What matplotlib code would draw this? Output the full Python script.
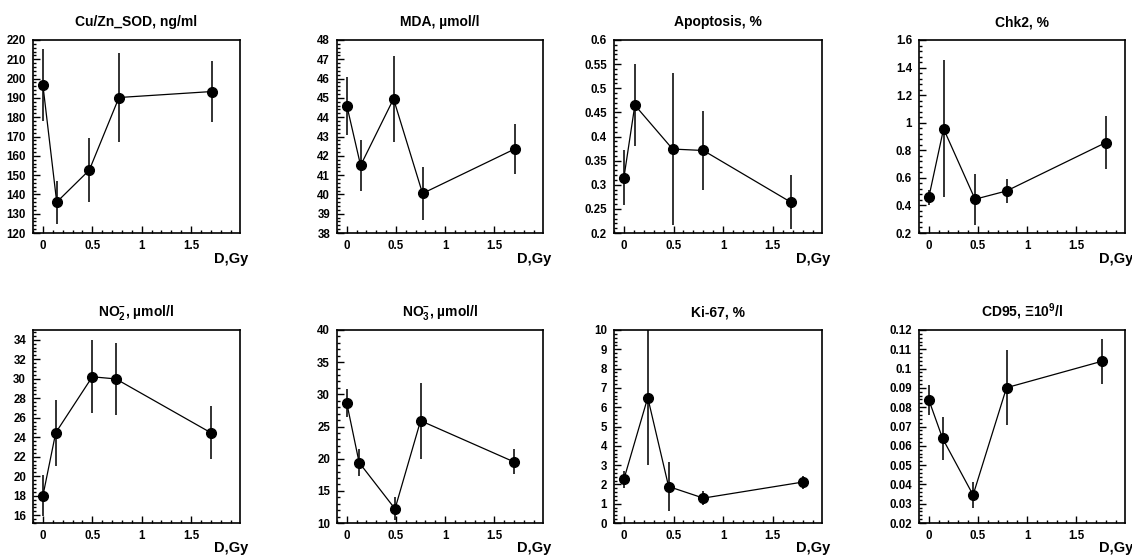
import matplotlib
matplotlib.use("Agg")
import matplotlib.pyplot as plt
from matplotlib.ticker import MultipleLocator, AutoMinorLocator, FuncFormatter

plt.rcParams['font.family'] = ['Liberation Sans', 'DejaVu Sans']
plt.rcParams['font.weight'] = 'bold'
plt.rcParams['mathtext.fontset'] = 'custom'
plt.rcParams['mathtext.rm'] = 'Liberation Sans:bold'
plt.rcParams['mathtext.it'] = 'Liberation Sans:bold'
plt.rcParams['mathtext.bf'] = 'Liberation Sans:bold'

# Dose values (Gy) per panel
dose_sod = [0.0, 0.14, 0.47, 0.77, 1.71]
dose_mda = [0.0, 0.14, 0.475, 0.77, 1.71]
dose_apo = [0.0, 0.11, 0.49, 0.80, 1.68]
dose_chk = [0.0, 0.15, 0.47, 0.79, 1.80]
dose_no2 = [0.0, 0.13, 0.50, 0.74, 1.70]
dose_no3 = [0.0, 0.125, 0.49, 0.75, 1.70]
dose_ki = [0.0, 0.24, 0.45, 0.80, 1.80]
dose_cd = [0.0, 0.14, 0.45, 0.79, 1.76]

# Mean values
sod = [196.7, 136.0, 152.6, 190.2, 193.3]
mda = [44.6, 41.5, 44.95, 40.05, 42.36]
apo = [0.315, 0.465, 0.374, 0.371, 0.264]
chk = [0.459, 0.956, 0.445, 0.505, 0.856]
no2 = [17.98, 24.46, 30.2, 29.98, 24.46]
no3 = [28.6, 19.4, 12.2, 25.9, 19.5]
ki = [2.27, 6.5, 1.89, 1.29, 2.12]
cd = [0.0838, 0.0638, 0.0345, 0.0901, 0.1038]

# Error bars (symmetric)
sod_err = [18.5, 11.2, 16.7, 23.3, 15.7]
mda_err = [1.5, 1.33, 2.24, 1.37, 1.28]
apo_err = [0.058, 0.085, 0.157, 0.081, 0.056]
chk_err = [0.056, 0.496, 0.186, 0.087, 0.19]
no2_err = [2.1, 3.4, 3.75, 3.67, 2.7]
no3_err = [2.2, 2.05, 1.8, 5.9, 1.95]
ki_err = [0.45, 3.5, 1.29, 0.36, 0.34]
cd_err = [0.0077, 0.011, 0.0069, 0.0195, 0.0117]

titles = ['Cu/Zn_SOD, ng/ml', 'MDA, µmol/l', 'Apoptosis, %', 'Chk2, %',
          r'NO$_{2}^{-}$, µmol/l', r'NO$_{3}^{-}$, µmol/l', 'Ki-67, %',
          r'CD95, Ξ10$^{9}$/l']
doses = [dose_sod, dose_mda, dose_apo, dose_chk, dose_no2, dose_no3, dose_ki, dose_cd]
values = [sod, mda, apo, chk, no2, no3, ki, cd]
errors = [sod_err, mda_err, apo_err, chk_err, no2_err, no3_err, ki_err, cd_err]
ylims = [(120, 220), (38, 48), (0.2, 0.6), (0.2, 1.6),
         (15.2, 35), (10, 40), (0, 10), (0.02, 0.12)]
ysteps = [10, 1, 0.05, 0.2, 2, 5, 1, 0.01]

lefts = [33, 337, 614, 919]
widths = [207, 206, 208, 206]
tops = [40, 330]
H = 193
W_FIG, H_FIG = 1132, 556

fig = plt.figure(figsize=(W_FIG / 100, H_FIG / 100), dpi=100)

for i in range(8):
    row, col = divmod(i, 4)
    ax = fig.add_axes([lefts[col] / W_FIG, 1 - (tops[row] + H) / H_FIG,
                       widths[col] / W_FIG, H / H_FIG])
    ax.errorbar(doses[i], values[i], yerr=errors[i], fmt='o-', color='black',
                ecolor='#222222', elinewidth=1.3, capsize=0, lw=0.9, ms=7)
    ax.set_xlim(-0.1, 1.995)
    ax.set_ylim(*ylims[i])
    ax.xaxis.set_major_locator(MultipleLocator(0.5))
    ax.xaxis.set_minor_locator(AutoMinorLocator(5))
    ax.yaxis.set_major_locator(MultipleLocator(ysteps[i]))
    ax.yaxis.set_minor_locator(AutoMinorLocator(5))
    fmt = FuncFormatter(lambda v, p: f'{round(v, 4):g}')
    ax.xaxis.set_major_formatter(fmt)
    ax.yaxis.set_major_formatter(fmt)
    ax.tick_params(which='both', direction='in', top=False, right=False,
                   labelsize=8.3, width=1)
    ax.tick_params(which='major', length=5, pad=5)
    ax.tick_params(which='minor', length=2.5)
    for s in ax.spines.values():
        s.set_linewidth(1.2)
    ax.set_title(titles[i], fontsize=10, fontweight='bold', pad=10)
    ax.annotate('D,Gy', xy=(1, 0), xycoords='axes fraction',
                xytext=(6, -14 + row), textcoords='offset points',
                ha='right', va='top', fontsize=10.5, fontweight='bold')

fig.savefig('out.png', dpi=100)
